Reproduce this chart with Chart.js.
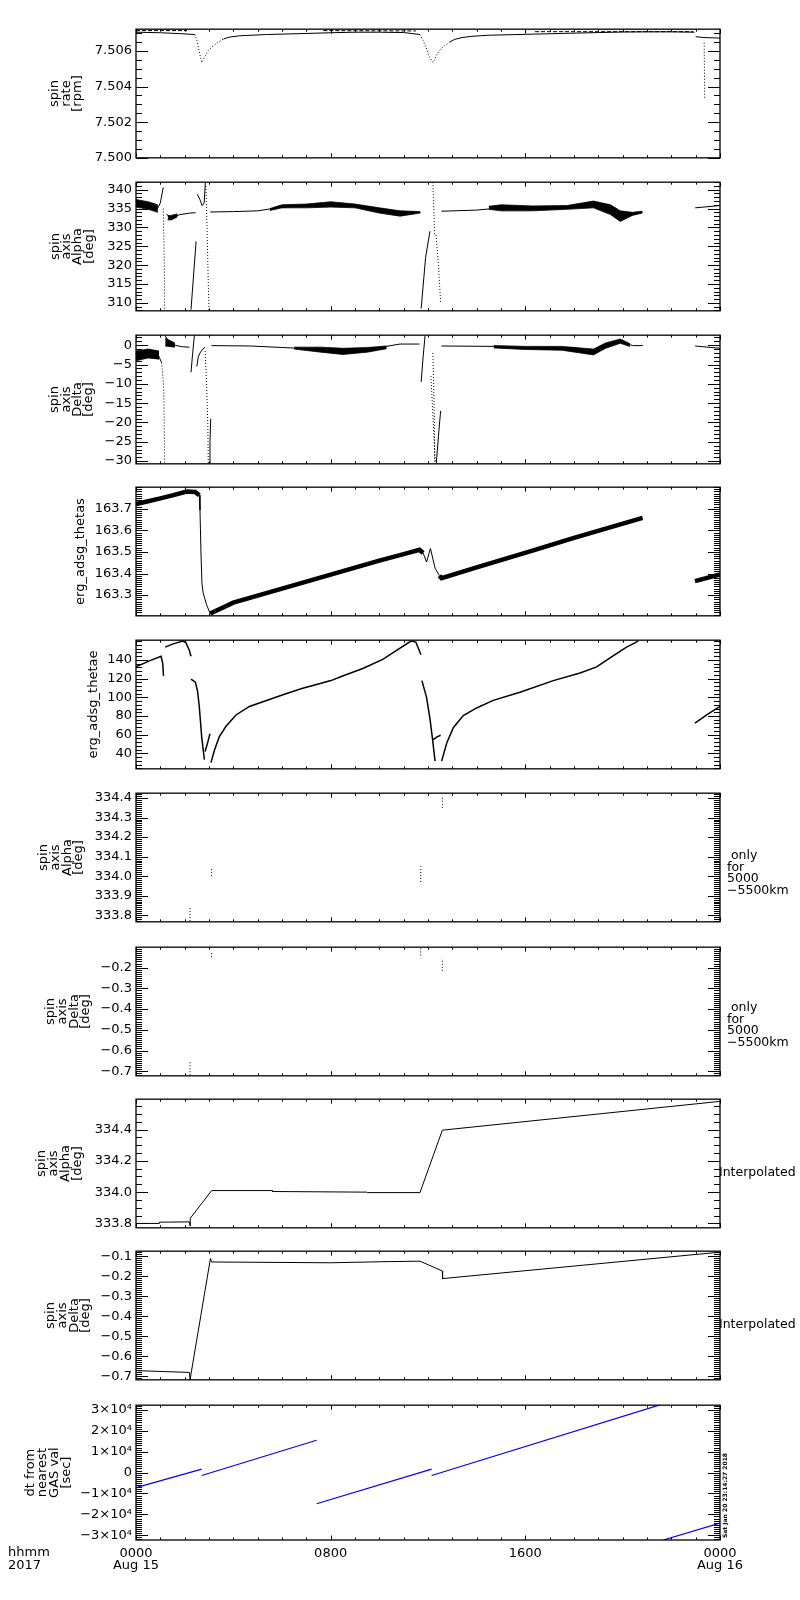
<!DOCTYPE html>
<html>
<head>
<meta charset="utf-8">
<script src="https://cdn.jsdelivr.net/npm/chart.js@4.4.1/dist/chart.umd.min.js"></script>
<style>
  html, body { margin: 0; padding: 0; background: #fff; }
  #lienzo { position: relative; width: 800px; height: 1600px; font-family: "DejaVu Sans", sans-serif; color: #000; }
  #lienzo canvas { position: absolute; left: 0; }
  .nota { position: absolute; font-size: 12.5px; line-height: 11.5px; white-space: pre; }
  .sello { position: absolute; font-size: 6px; line-height: 7px; white-space: pre; font-weight: bold;
           transform-origin: 0 0; transform: rotate(-90deg); }
</style>
</head>
<body>
<div id="lienzo"></div>
<script>
// horas desde 0000 UT del 15 de agosto de 2017; null = hueco en la traza
const horaTicks = [0, 8, 16, 24];
const horaLabels = [['0000', 'Aug 15'], ['0800'], ['1600'], ['0000', 'Aug 16']];

// panel 1: spin rate [rpm]
const spinTicks = [7.500, 7.502, 7.504, 7.506];
const spinT = [0, 1, 1.8, 2.42, 2.5, 2.58, 2.64, 2.7, 2.84, 2.97, 3.18, 3.38, 3.59, 3.86, 4.27, 5.37, 6.74, 8, 9, 10, 11, 11.67, 11.8, 11.95, 12.05, 12.2, 12.33, 12.47, 12.68, 12.88, 13.1, 13.4, 13.8, 14.5, 16, 17.5, 19, 20, 21, 22, 22.95, null, 23.0, 23.34, 24];
const spinV = [7.50705, 7.50702, 7.50697, 7.50692, 7.5066, 7.5061, 7.5057, 7.50535, 7.50569, 7.50603, 7.50629, 7.50649, 7.50667, 7.50678, 7.50685, 7.50692, 7.50697, 7.50702, 7.50705, 7.50705, 7.50703, 7.50692, 7.5066, 7.5061, 7.5057, 7.50535, 7.50569, 7.50603, 7.50629, 7.50649, 7.50665, 7.50675, 7.50682, 7.50688, 7.50693, 7.50698, 7.50703, 7.50706, 7.50707, 7.50707, 7.50705, null, 7.5068, 7.50675, 7.50672];
const spinTopeT = [0, 2.1, null, 7.7, 11.5, null, 16.4, 22.9];
const spinTopeV = [7.50714, 7.50714, null, 7.50714, 7.50712, null, 7.50708, 7.50708];
const spinCaidaT = [23.35, 23.36, 23.37];
const spinCaidaV = [7.50646, 7.5050, 7.50333];

// panel 2: spin axis Alpha [deg]
const alfaTicks = [310, 315, 320, 325, 330, 335, 340];
const alfaT = [0, 0.3, 0.6, 0.85, 1.0, 1.12, null, 1.25, 1.45, 1.8, 2.2, 2.45, null, 2.26, 2.47, null, 2.52, 2.62, 2.72, 2.8, 2.85, null,
  3.05, 4, 5, 6, 7, 8, 9, 10, 10.85, 11.5, 11.7, null, 11.72, 11.9, 12.08, null,
  12.55, 14, 15, 16, 17, 18, 18.8, 19.3, 19.9, 20.4, 20.83, null, 22.98, 24];
const alfaV = [336.3, 336.0, 335.0, 334.6, 336.5, 340.6, null, 333.5, 332.6, 333.4, 333.8, 333.9, null, 308.2, 326.3, null, 338.8, 337.5, 335.8, 336.5, 342, null,
  334.1, 334.2, 334.4, 335.4, 335.7, 336.2, 335.7, 334.6, 334.0, 333.9, 334.0, null, 308.5, 322, 329, null,
  334.3, 334.6, 335.2, 335.2, 335.4, 335.6, 336.4, 335.2, 333.0, 333.5, 334.1, null, 335.2, 335.8];
const alfaPuntosT = [1.12, 1.16, 1.18, null, 2.87, 2.92, 2.96, 3.0, null, 12.2, 12.24, 12.27, null, 12.33, 12.43, 12.52];
const alfaPuntosV = [335.0, 322, 308, null, 341, 330, 318, 308, null, 342, 335, 328, null, 328, 320, 310];
const alfaBandaT = [0, 0.5, 0.9, null, 1.3, 1.45, 1.7, null, 5.5, 6, 7, 8, 9, 10, 10.85, 11.67, null,
  14.5, 15, 16.3, 17.7, 18.8, 19.5, 19.9, 20.4, 20.8];
const alfaBandaAlto = [337.4, 336.8, 336.0, null, 333.1, 333.2, 333.6, null, 335.0, 336.0, 336.2, 336.8, 336.2, 335.2, 334.4, 334.2, null,
  335.6, 336.0, 335.7, 335.8, 337.0, 336.0, 334.4, 334.0, 334.3];
const alfaBandaBajo = [335.4, 334.8, 334.0, null, 332.0, 332.0, 332.8, null, 334.5, 335.2, 335.2, 335.4, 335.2, 333.8, 333.0, 333.8, null,
  334.8, 334.4, 334.4, 334.8, 335.2, 333.4, 331.6, 333.2, 333.8];

// panel 3: spin axis Delta [deg]
const deltaTicks = [-30, -25, -20, -15, -10, -5, 0];
const deltaT = [0, 0.3, 0.6, 0.9, 1.05, null, 1.2, 1.35, 1.6, 1.9, 2.2, null, 2.26, 2.33, 2.4, null, 2.5, 2.56, 2.63, 2.75, 2.84, null,
  3.0, 3.04, 3.07, null, 3.1, 4.7, 6.7, 7.6, 8.5, 9, 10, 10.85, 11.65, null, 11.72, 11.8, 11.88, null,
  12.34, 12.45, 12.52, null, 12.55, 14.7, 16, 17, 18, 18.8, 19.3, 19.9, 20.4, 20.83, null, 22.98, 24];
const deltaV = [-3, -2.8, -2, -2.3, -4.5, null, 2.4, 1, 0, -0.4, -0.5, null, -7, -2, 2.6, null, -5.5, -3, -2, -1, -0.5, null,
  -30.5, -25, -19, null, -0.1, -0.2, -0.8, -1.2, -1.6, -1.4, -0.6, 0.3, 0.3, null, -9.5, -3, 2.5, null,
  -30.5, -22, -17, null, -0.2, -0.3, -0.6, -0.8, -0.6, -1.9, 0.2, 1.2, -0.1, -0.1, null, -0.2, -0.8];
const deltaPuntosT = [1.05, 1.1, 1.14, 1.16, 1.18, null, 2.84, 2.9, 2.95, 2.97, null, 12.12, 12.2, 12.3, null, 12.2, 12.25, 12.28];
const deltaPuntosV = [-4.5, -8, -11, -20, -30.5, null, -1.5, -10, -20, -30.5, null, -8, -18, -30.5, null, -2, -15, -30.5];
const deltaBandaT = [0, 0.5, 0.95, null, 1.2, 1.6, null, 6.5, 7.6, 8.5, 9.5, 10.3, null, 14.7, 16, 17.5, 18.8, 19.3, 19.9, 20.3];
const deltaBandaAlto = [-1.5, -1.0, -1.5, null, 1.8, 0.6, null, -0.5, -0.5, -0.8, -0.6, -0.2, null, -0.1, -0.3, -0.3, -1.0, 0.6, 1.6, 0.4];
const deltaBandaBajo = [-4.0, -3.3, -3.6, null, -0.2, -0.5, null, -1.0, -1.8, -2.4, -1.8, -0.9, null, -0.7, -1.1, -1.3, -2.5, -0.8, 0.5, -0.3];

// panel 4: erg_adsg_thetas
const thetasTicks = [163.3, 163.4, 163.5, 163.6, 163.7];
const thetasT = [0, 0.5, 1, 1.5, 2.08, 2.43, 2.6, 2.63, 2.67, 2.71, 2.76, 2.9, 3.05, 4, 6, 8, 10, 11.0, 11.65, 11.8, 11.94, 12.1, 12.29, 12.47, 12.56, 14, 16.33, 18, 20.82, null, 22.97, 24];
const thetasV = [163.722, 163.735, 163.748, 163.762, 163.78, 163.778, 163.763, 163.693, 163.495, 163.354, 163.31, 163.255, 163.215, 163.265, 163.33, 163.395, 163.46, 163.49, 163.51, 163.495, 163.453, 163.516, 163.425, 163.39, 163.378, 163.428, 163.507, 163.565, 163.658, null, 163.365, 163.396];

// panel 5: erg_adsg_thetae
const thetaeTicks = [40, 60, 80, 100, 120, 140];
const thetaeT = [0, 0.55, 1.03, 1.1, 1.13, null, 1.2, 1.5, 1.92, 2.05, 2.19, 2.26, null, 2.26, 2.44, 2.53, 2.6, 2.7, 2.81, null, 2.84, 2.95, 3.04, null,
  3.08, 3.22, 3.42, 3.7, 4.11, 4.66, 5.48, 6.16, 6.85, 7.53, 8.01, 8.49, 9.32, 10.14, 10.82, 11.3, 11.5, 11.71, null,
  11.75, 11.94, 12.08, 12.19, 12.29, null, 12.2, 12.37, 12.52, null,
  12.56, 12.77, 13.04, 13.45, 14.0, 14.68, 15.78, 17.15, 18.25, 18.93, 19.48, 20.16, 20.64, null, 22.97, 23.5, 24];
const thetaeV = [132.6, 139, 143.9, 136, 123, null, 153.7, 157, 160.2, 158.6, 150.4, 143.9, null, 119.5, 116.3, 106.5, 90.2, 57.6, 33.2, null, 42, 52, 60.9, null,
  30, 43, 57.6, 69, 81.1, 90.2, 97.7, 103.9, 109.7, 114.6, 117.9, 122.8, 130.9, 140.7, 152.1, 160.2, 159.2, 145.6, null,
  117.9, 100, 77.2, 54.4, 31.6, null, 54.4, 57.6, 59.3, null,
  31.6, 51.1, 67.4, 80.4, 88.6, 96.7, 105.5, 117.9, 126, 132.6, 142.3, 153.7, 160.2, null, 72.3, 82, 90.2];

// paneles 6 y 7: solo para 5000-5500 km
const finoT = [2.22, 2.22, null, 3.11, 3.11, null, 11.7, 11.7, null, 12.59, 12.59];
const alfaFinoTicks = [333.8, 333.9, 334.0, 334.1, 334.2, 334.3, 334.4];
const alfaFinoV = [333.77, 333.84, null, 334.0, 334.045, null, 333.97, 334.05, null, 334.35, 334.41];
const deltaFinoTicks = [-0.7, -0.6, -0.5, -0.4, -0.3, -0.2];
const deltaFinoV = [-0.719, -0.652, null, -0.148, -0.119, null, -0.141, -0.1, null, -0.215, -0.156];

// paneles 8 y 9: interpolados
const alfaInterpTicks = [333.8, 334.0, 334.2, 334.4];
const alfaInterpT = [0, 0.95, 0.96, 2.2, 2.22, 2.23, 3.11, 5.6, 5.61, 9.48, 9.5, 11.67, 12.59, 24];
const alfaInterpV = [333.8, 333.8, 333.808, 333.81, 333.784, 333.833, 334.01, 334.01, 334.004, 334.0, 333.997, 333.997, 334.396, 334.58];
const deltaInterpTicks = [-0.7, -0.6, -0.5, -0.4, -0.3, -0.2, -0.1];
const deltaInterpT = [0, 2.2, 2.22, 2.24, 3.06, 3.1, 8, 10, 11.67, 12.59, 12.6, 23.73, 24];
const deltaInterpV = [-0.671, -0.68, -0.718, -0.703, -0.11, -0.128, -0.132, -0.127, -0.124, -0.173, -0.211, -0.082, -0.08];

// panel 10: dt from nearest GAS val [sec]
const dtTicks = [-30000, -20000, -10000, 0, 10000, 20000, 30000];
const dtLabels = ['\u22123\u00d710\u2074', '\u22122\u00d710\u2074', '\u22121\u00d710\u2074', '0', '1\u00d710\u2074', '2\u00d710\u2074', '3\u00d710\u2074'];
const dtT = [0, 2.7, null, 2.7, 7.42, null, 7.42, 12.15, null, 12.15, 21.53, null, 21.67, 24];
const dtV = [-7245, 1677, null, -1385, 15500, null, -14950, 1660, null, -1385, 32440, null, -32300, -24180];

const FAMILIA = '"DejaVu Sans", sans-serif';
Chart.defaults.font.family = FAMILIA;
Chart.defaults.color = '#000';

const menos = s => s.replace('-', '\u2212');

function traza(ts, vs, estilo) {
  return Object.assign({
    data: ts.map((t, i) => ({ x: t === null ? ts[i - 1] : t, y: vs[i] })),
    borderColor: '#000', borderWidth: 1, pointRadius: 0, fill: false, spanGaps: false, tension: 0
  }, estilo || {});
}

function banda(ts, alto, bajo) {
  return [
    traza(ts, alto, { borderWidth: 0.8 }),
    traza(ts, bajo, { borderWidth: 0.8, fill: '-1', backgroundColor: '#000' })
  ];
}

const punteado = { borderDash: [1, 2] };
// tramos muy inclinados: puntos sueltos, como en el original
const empinado = c => Math.abs(c.p1.y - c.p0.y) > 0.6 * Math.abs(c.p1.x - c.p0.x);

// marco y marcas hacia dentro, al estilo IDL
const marcoIDL = {
  id: 'marcoIDL',
  afterDraw(chart, args, o) {
    const { ctx, chartArea: a } = chart;
    const x = chart.scales.x, y = chart.scales.y;
    ctx.save();
    ctx.strokeStyle = '#000';
    ctx.lineWidth = 1;
    ctx.beginPath();
    const raya = (x1, y1, x2, y2) => { ctx.moveTo(x1, y1); ctx.lineTo(x2, y2); };
    const n0 = Math.ceil(y.min / o.menor - 1e-6), n1 = Math.floor(y.max / o.menor + 1e-6);
    for (let n = n0; n <= n1; n++) {
      const py = Math.round(y.getPixelForValue(n * o.menor)) + 0.5;
      raya(a.left, py, a.left + 6, py);
      raya(a.right, py, a.right - 6, py);
    }
    y.ticks.forEach(t => {
      const py = Math.round(y.getPixelForValue(t.value)) + 0.5;
      raya(a.left, py, a.left + 12, py);
      raya(a.right, py, a.right - 12, py);
    });
    for (let h = 0; h <= 24; h++) {
      const px = Math.round(x.getPixelForValue(h)) + 0.5;
      const l = h % 8 === 0 ? 4.5 : 2.5;
      raya(px, a.top, px, a.top + l);
      raya(px, a.bottom, px, a.bottom - l);
    }
    ctx.stroke();
    ctx.lineWidth = 1.3;
    ctx.strokeRect(a.left, a.top, a.right - a.left, a.bottom - a.top);
    ctx.restore();
  }
};

const paneles = [
  { top: 23, titulo: ['spin', 'rate', '[rpm]'], tituloX: 49, interlinea: 0.89, min: 7.5, max: 7.50722, ticks: spinTicks,
    etiqueta: v => v.toFixed(3), menor: 0.0005,
    series: [traza(spinT, spinV, { segment: { borderDash: c => empinado(c) ? [1, 2] : undefined } }),
             traza(spinTopeT, spinTopeV, { borderDash: [4, 2] }), traza(spinCaidaT, spinCaidaV, punteado)] },
  { top: 176, titulo: ['spin', 'axis', 'Alpha', '[deg]'], tituloX: 50, interlinea: 0.86, min: 307.9, max: 342, ticks: alfaTicks,
    etiqueta: v => String(v), menor: 1,
    series: [...banda(alfaBandaT, alfaBandaAlto, alfaBandaBajo), traza(alfaT, alfaV), traza(alfaPuntosT, alfaPuntosV, punteado)] },
  { top: 329, titulo: ['spin', 'axis', 'Delta', '[deg]'], tituloX: 49, interlinea: 0.88, min: -30.7, max: 2.6, ticks: deltaTicks,
    etiqueta: v => menos(String(v)), menor: 1,
    series: [...banda(deltaBandaT, deltaBandaAlto, deltaBandaBajo), traza(deltaT, deltaV), traza(deltaPuntosT, deltaPuntosV, punteado)] },
  { top: 481, titulo: 'erg_adsg_thetas', tituloX: 74, interlinea: 1, min: 163.204, max: 163.80, ticks: thetasTicks,
    etiqueta: v => v.toFixed(1), menor: 0.01,
    series: [traza(thetasT, thetasV, { segment: { borderWidth: c =>
      Math.abs(c.p1.y - c.p0.y) > 1.5 * Math.abs(c.p1.x - c.p0.x) ? 1 : 4.5 } })] },
  { top: 634, titulo: 'erg_adsg_thetae', tituloX: 87, interlinea: 1, min: 23.4, max: 161.2, ticks: thetaeTicks,
    etiqueta: v => String(v), menor: 4,
    series: [traza(thetaeT, thetaeV, { borderWidth: 1.5 })] },
  { top: 787, titulo: ['spin', 'axis', 'Alpha', '[deg]'], tituloX: 38, interlinea: 0.9, min: 333.766, max: 334.425, ticks: alfaFinoTicks,
    etiqueta: v => v.toFixed(1), menor: 0.01,
    series: [traza(finoT, alfaFinoV, punteado)] },
  { top: 941, titulo: ['spin', 'axis', 'Delta', '[deg]'], tituloX: 45, interlinea: 0.9, min: -0.722, max: -0.101, ticks: deltaFinoTicks,
    etiqueta: v => menos(v.toFixed(1)), menor: 0.01,
    series: [traza(finoT, deltaFinoV, punteado)] },
  { top: 1093, titulo: ['spin', 'axis', 'Alpha', '[deg]'], tituloX: 36, interlinea: 0.92, min: 333.772, max: 334.594, ticks: alfaInterpTicks,
    etiqueta: v => v.toFixed(1), menor: 0.05,
    series: [traza(alfaInterpT, alfaInterpV)] },
  { top: 1245, titulo: ['spin', 'axis', 'Delta', '[deg]'], tituloX: 45, interlinea: 0.9, min: -0.717, max: -0.074, ticks: deltaInterpTicks,
    etiqueta: v => menos(v.toFixed(1)), menor: 0.01,
    series: [traza(deltaInterpT, deltaInterpV)] },
  { top: 1399, titulo: ['dt from', 'nearest', 'GAS val', '[sec]'], tituloX: 25, interlinea: 0.92, min: -32300, max: 32300, ticks: dtTicks,
    etiqueta: (v, i) => dtLabels[i], menor: 1000,
    series: [traza(dtT, dtV, { borderColor: '#0000ff', borderWidth: 1.2 })] }
];

const lienzo = document.getElementById('lienzo');
const fuente = { family: FAMILIA, size: 13, lineHeight: 0.95 };

paneles.forEach((p, k) => {
  const ultimo = k === paneles.length - 1;
  const canvas = document.createElement('canvas');
  canvas.width = 800;
  canvas.height = ultimo ? 4 + 141 + 46 : 149;
  canvas.style.top = (p.top - 4) + 'px';
  lienzo.appendChild(canvas);

  new Chart(canvas.getContext('2d'), {
    type: 'line',
    data: { datasets: p.series },
    plugins: [marcoIDL],
    options: {
      responsive: false,
      animation: false,
      events: [],
      layout: { padding: { left: p.tituloX, right: 80, top: 4, bottom: ultimo ? 0 : 4 } },
      plugins: {
        legend: { display: false },
        tooltip: { enabled: false },
        marcoIDL: { menor: p.menor }
      },
      scales: {
        x: {
          type: 'linear', min: 0, max: 24, display: ultimo,
          grid: { display: false, drawTicks: false }, border: { display: false },
          afterBuildTicks: s => { s.ticks = horaTicks.map(v => ({ value: v })); },
          afterFit: s => { s.height = ultimo ? 46 : 0; },
          ticks: { autoSkip: false, maxRotation: 0, padding: 7, color: '#000', font: fuente,
                   callback: (v, i) => horaLabels[i] }
        },
        y: {
          type: 'linear', min: p.min, max: p.max,
          grid: { display: false, drawTicks: false }, border: { display: false },
          afterBuildTicks: s => { s.ticks = p.ticks.map(v => ({ value: v })); },
          afterFit: s => { s.width = 136 - p.tituloX; },
          ticks: { autoSkip: false, padding: 4, color: '#000', font: fuente,
                   callback: (v, i) => p.etiqueta(v, i) },
          title: { display: true, text: p.titulo, padding: 0, color: '#000',
                   font: { family: FAMILIA, size: 13, lineHeight: p.interlinea } }
        }
      }
    }
  });
});

// textos al margen
function nota(texto, left, top, clase) {
  const d = document.createElement('div');
  d.className = clase || 'nota';
  d.textContent = texto;
  d.style.left = left + 'px';
  d.style.top = top + 'px';
  lienzo.appendChild(d);
  return d;
}
nota(' only\nfor\n5000\n\u22125500km', 727, 849);
nota(' only\nfor\n5000\n\u22125500km', 727, 1001);
nota('Interpolated', 719, 1166);
nota('Interpolated', 719, 1318);
const pie = nota('hhmm\n2017', 8, 1546);
pie.style.fontSize = '13px';
pie.style.lineHeight = '12.5px';
nota('Sat Jan 20 23:14:27 2018', 721, 1538, 'sello');
</script>
</body>
</html>
